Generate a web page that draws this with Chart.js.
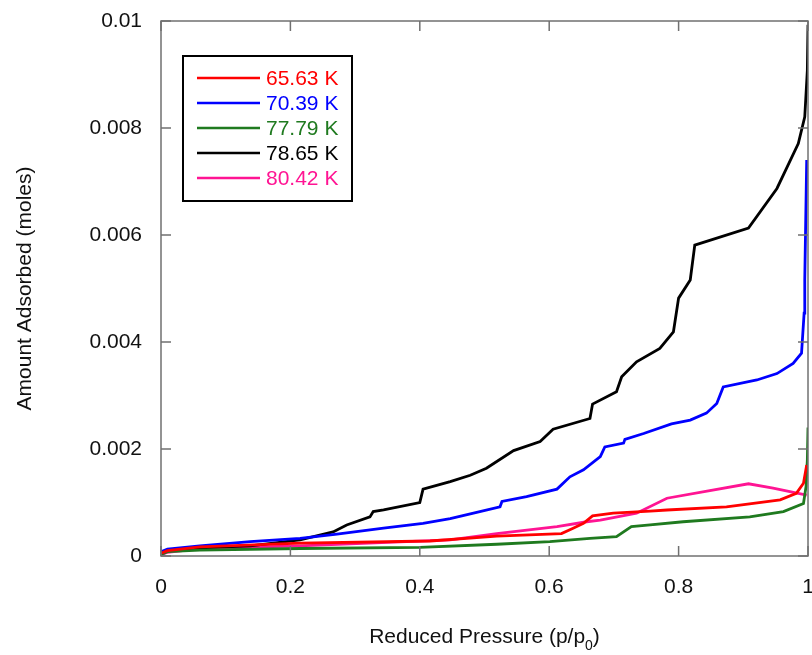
<!DOCTYPE html>
<html>
<head>
<meta charset="utf-8">
<script src="https://cdn.jsdelivr.net/npm/chart.js"></script>
<style>
  html, body { margin: 0; padding: 0; background: #fff; }
  #wrap { width: 812px; height: 655px; }
</style>
</head>
<body>
<div id="wrap"><canvas id="isoChart"></canvas></div>
<script>
// izoterm verileri (p/p0, mol)
const labels = ['65.63 K', '70.39 K', '77.79 K', '78.65 K', '80.42 K'];
const colors = ['#ff0000', '#0000ff', '#1f7a1f', '#000000', '#ff1493'];

const p6563 = [0, 0.01, 0.06, 0.215, 0.416, 0.519, 0.619, 0.637, 0.653, 0.667, 0.699, 0.756, 0.782, 0.874, 0.957, 0.982, 0.993, 0.998];
const n6563 = [0.00005, 0.0001, 0.00017, 0.00024, 0.00028, 0.00037, 0.00042, 0.00052, 0.00061, 0.00075, 0.0008, 0.00084, 0.00086, 0.00092, 0.00105, 0.00117, 0.00136, 0.0017];

const p7039 = [0, 0.01, 0.06, 0.138, 0.215, 0.272, 0.344, 0.405, 0.447, 0.483, 0.524, 0.527, 0.565, 0.612, 0.632, 0.653, 0.679, 0.686, 0.715, 0.717, 0.746, 0.789, 0.818, 0.843, 0.859, 0.869, 0.921, 0.952, 0.977, 0.99, 0.994, 0.995, 0.998];
const n7039 = [0.00008, 0.00013, 0.00019, 0.00027, 0.00033, 0.00041, 0.00052, 0.00061, 0.0007, 0.0008, 0.00092, 0.00102, 0.00111, 0.00125, 0.00148, 0.00161, 0.00186, 0.00204, 0.00211, 0.00218, 0.00229, 0.00247, 0.00254, 0.00267, 0.00285, 0.00316, 0.00329, 0.00341, 0.0036, 0.00379, 0.00454, 0.00516, 0.0074];

const p7779 = [0, 0.01, 0.06, 0.215, 0.4, 0.519, 0.601, 0.663, 0.704, 0.727, 0.756, 0.807, 0.91, 0.962, 0.993, 0.997, 0.999, 1.0];
const n7779 = [0.00003, 0.00008, 0.00011, 0.00014, 0.00016, 0.00022, 0.00027, 0.00033, 0.00036, 0.00055, 0.00058, 0.00064, 0.00073, 0.00083, 0.00098, 0.0013, 0.0018, 0.0024];

const p7865 = [0, 0.005, 0.014, 0.06, 0.138, 0.215, 0.266, 0.287, 0.323, 0.328, 0.344, 0.4, 0.405, 0.447, 0.478, 0.503, 0.545, 0.586, 0.606, 0.663, 0.667, 0.704, 0.712, 0.735, 0.771, 0.792, 0.8, 0.818, 0.825, 0.908, 0.952, 0.985, 0.995, 0.999, 1.0];
const n7865 = [0.00005, 0.00008, 0.00011, 0.00015, 0.00019, 0.0003, 0.00045, 0.00058, 0.00073, 0.00083, 0.00086, 0.001, 0.00125, 0.00139, 0.00151, 0.00164, 0.00197, 0.00214, 0.00237, 0.00257, 0.00284, 0.00307, 0.00335, 0.00363, 0.00388, 0.00419, 0.00482, 0.00516, 0.00581, 0.00613, 0.00687, 0.00771, 0.00821, 0.00908, 0.00993];

const p8042 = [0, 0.01, 0.06, 0.215, 0.447, 0.519, 0.612, 0.658, 0.679, 0.735, 0.782, 0.908, 0.946, 0.998];
const n8042 = [0.00002, 0.00007, 0.00014, 0.00019, 0.0003, 0.00042, 0.00055, 0.00064, 0.00067, 0.0008, 0.00108, 0.00135, 0.00127, 0.00114];

const xTicks = [0, 0.2, 0.4, 0.6, 0.8, 1];
const yTicks = [0, 0.002, 0.004, 0.006, 0.008, 0.01];

const seriesX = [p6563, p7039, p7779, p7865, p8042];
const seriesY = [n6563, n7039, n7779, n7865, n8042];

const FONT = '"Liberation Sans", Arial, sans-serif';
const AXIS_COLOR = '#707070';

const datasets = labels.map((lab, i) => ({
    label: lab,
    data: seriesX[i].map((x, j) => ({ x: x, y: seriesY[i][j] })),
    borderColor: colors[i],
    backgroundColor: colors[i],
    borderWidth: 2.8,
    pointRadius: 0,
    tension: 0,
    showLine: true
}));

// çerçeve, içe dönük tick çizgileri, eksen başlıkları ve lejant
const framePlugin = {
    id: 'frame',
    afterDraw(chart) {
        const ctx = chart.ctx;
        const a = chart.chartArea;
        const xs = chart.scales.x, ys = chart.scales.y;
        ctx.save();
        ctx.strokeStyle = AXIS_COLOR;
        ctx.lineWidth = 1.5;
        ctx.strokeRect(a.left, a.top, a.right - a.left, a.bottom - a.top);
        ctx.beginPath();
        xTicks.forEach(v => {
            const px = xs.getPixelForValue(v);
            ctx.moveTo(px, a.bottom); ctx.lineTo(px, a.bottom - 10);
            ctx.moveTo(px, a.top); ctx.lineTo(px, a.top + 10);
        });
        yTicks.forEach(v => {
            const py = ys.getPixelForValue(v);
            ctx.moveTo(a.left, py); ctx.lineTo(a.left + 10, py);
            ctx.moveTo(a.right, py); ctx.lineTo(a.right - 10, py);
        });
        ctx.stroke();

        // eksen başlıkları
        ctx.fillStyle = '#111';
        ctx.textBaseline = 'middle';
        const main = 'Reduced Pressure (p/p';
        const tail = ')';
        ctx.font = '21px ' + FONT;
        const wMain = ctx.measureText(main).width;
        const wTail = ctx.measureText(tail).width;
        ctx.font = '14px ' + FONT;
        const wSub = ctx.measureText('0').width;
        const total = wMain + wSub + wTail;
        const x0 = (a.left + a.right) / 2 - total / 2;
        const ty = 637;
        ctx.textAlign = 'left';
        ctx.font = '21px ' + FONT;
        ctx.fillText(main, x0, ty);
        ctx.font = '14px ' + FONT;
        ctx.fillText('0', x0 + wMain, ty + 9);
        ctx.font = '21px ' + FONT;
        ctx.fillText(tail, x0 + wMain + wSub, ty);

        ctx.save();
        ctx.translate(25, (a.top + a.bottom) / 2);
        ctx.rotate(-Math.PI / 2);
        ctx.textAlign = 'center';
        ctx.fillText('Amount Adsorbed (moles)', 0, 0);
        ctx.restore();

        // lejant
        const bx = a.left + 22, by = a.top + 35;
        ctx.strokeStyle = '#000';
        ctx.lineWidth = 2;
        ctx.strokeRect(bx, by, 169, 145);
        ctx.font = '21px ' + FONT;
        ctx.textAlign = 'left';
        chart.data.datasets.forEach((ds, i) => {
            const ry = by + 22 + i * 25;
            ctx.strokeStyle = ds.borderColor;
            ctx.lineWidth = 2.5;
            ctx.beginPath();
            ctx.moveTo(bx + 14, ry);
            ctx.lineTo(bx + 77, ry);
            ctx.stroke();
            ctx.fillStyle = ds.borderColor;
            ctx.fillText(ds.label, bx + 83, ry + 1);
        });
        ctx.restore();
    }
};

new Chart(document.getElementById('isoChart').getContext('2d'), {
    type: 'scatter',
    data: { datasets: datasets },
    options: {
        responsive: true,
        maintainAspectRatio: false,
        animation: false,
        layout: { padding: { top: 21, right: 4, left: 0, bottom: 0 } },
        plugins: {
            legend: { display: false },
            tooltip: { enabled: false }
        },
        scales: {
            x: {
                type: 'linear',
                min: 0,
                max: 1,
                grid: { display: false, drawTicks: false },
                border: { display: false },
                afterBuildTicks: s => { s.ticks = xTicks.map(v => ({ value: v })); },
                afterFit: s => { s.height = 99; s.paddingLeft = 0; s.paddingRight = 0; },
                ticks: {
                    padding: 19,
                    color: '#111',
                    font: { family: FONT, size: 21 },
                    callback: v => String(Number(v.toFixed(3)))
                }
            },
            y: {
                type: 'linear',
                min: 0,
                max: 0.01,
                grid: { display: false, drawTicks: false },
                border: { display: false },
                afterBuildTicks: s => { s.ticks = yTicks.map(v => ({ value: v })); },
                afterFit: s => { s.width = 161; s.paddingTop = 0; s.paddingBottom = 0; },
                ticks: {
                    padding: 19,
                    color: '#111',
                    font: { family: FONT, size: 21 },
                    callback: v => String(Number(v.toFixed(3)))
                }
            }
        }
    },
    plugins: [framePlugin]
});
</script>
</body>
</html>
